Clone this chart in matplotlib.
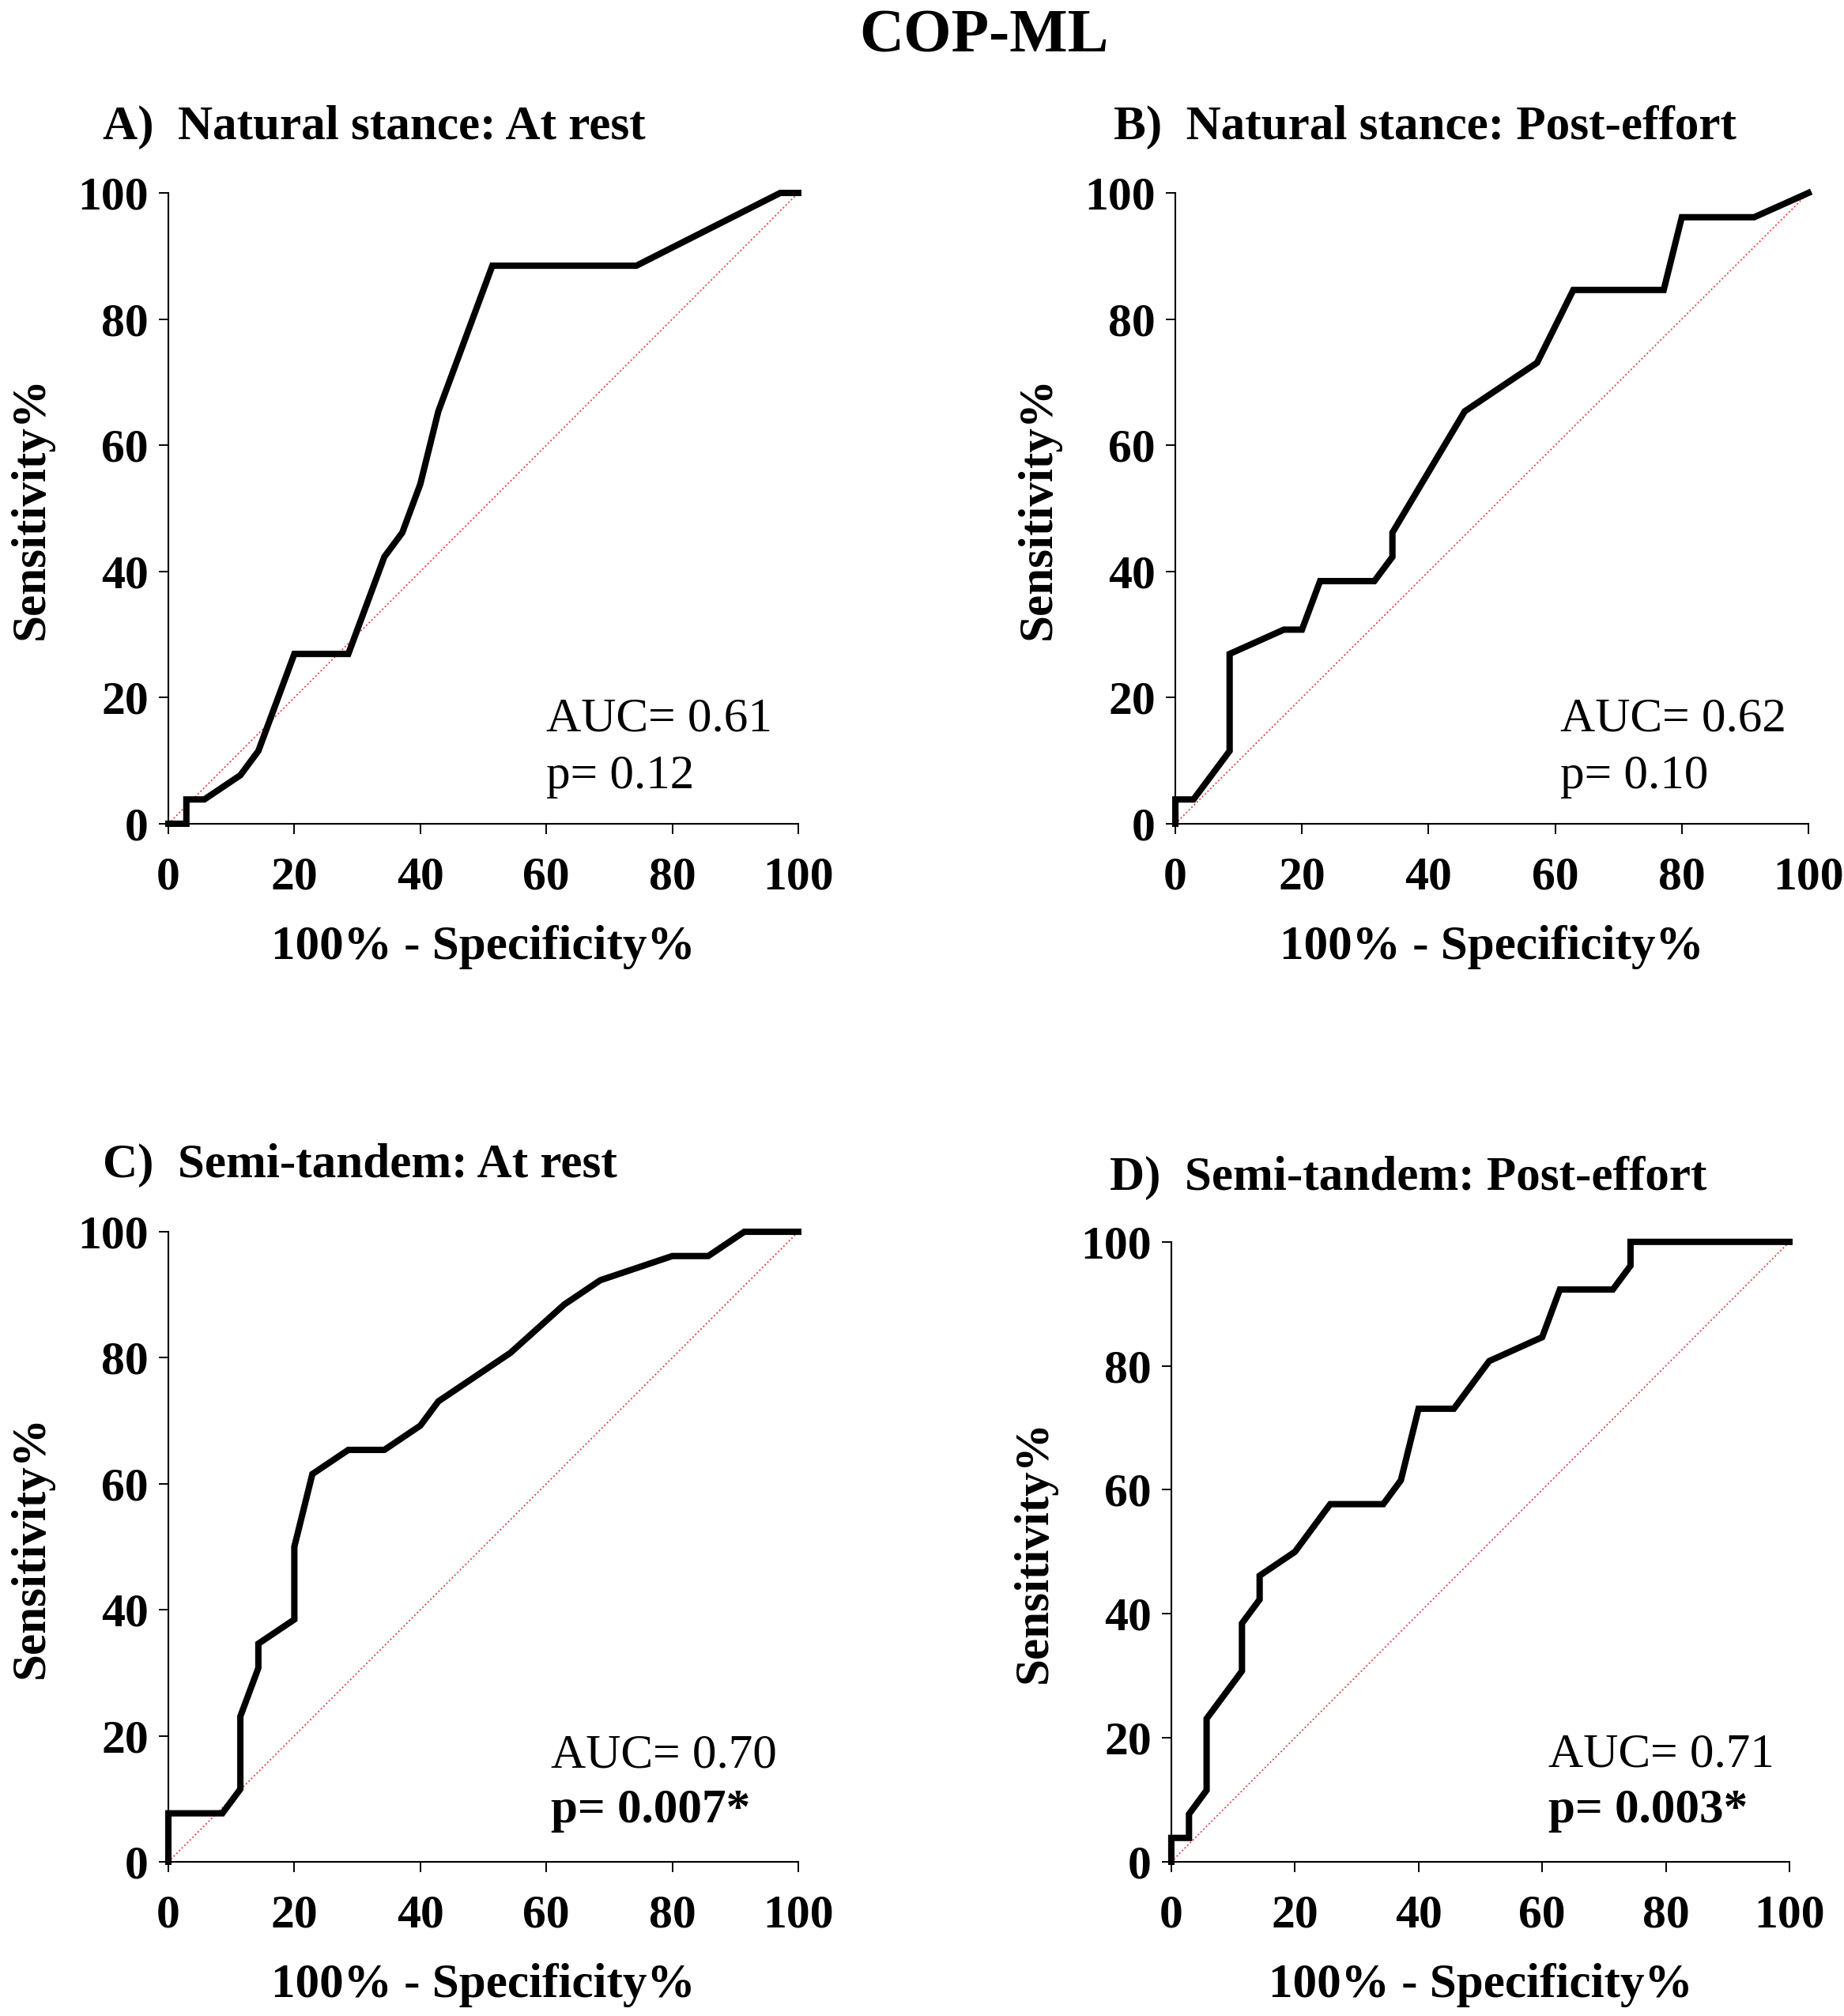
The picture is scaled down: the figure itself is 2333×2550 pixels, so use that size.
import matplotlib
matplotlib.use("Agg")
import matplotlib.pyplot as plt

plt.rcParams["font.family"] = ["Liberation Serif", "DejaVu Serif"]

# ROC curve points: x = 100% - specificity%, y = sensitivity%
a_fpr = [0, 2.86, 2.86, 5.71, 11.43, 14.29, 20.0, 28.57, 34.29, 37.14, 40.0, 42.86, 51.43, 74.29, 97.14, 100]
a_tpr = [0, 0, 3.85, 3.85, 7.69, 11.54, 26.92, 26.92, 42.31, 46.15, 53.85, 65.38, 88.46, 88.46, 100, 100]

b_fpr = [0, 0, 2.86, 8.57, 8.57, 17.14, 20.0, 22.86, 31.43, 34.29, 34.29, 45.71, 57.14, 62.86, 77.14, 80.0, 91.43, 100]
b_tpr = [0, 3.85, 3.85, 11.54, 26.92, 30.77, 30.77, 38.46, 38.46, 42.31, 46.15, 65.38, 73.08, 84.62, 84.62, 96.15, 96.15, 100]

c_fpr = [0, 0, 8.57, 11.43, 11.43, 14.29, 14.29, 20.0, 20.0, 22.86, 28.57, 34.29, 40.0, 42.86, 54.29, 62.86, 68.57, 80.0, 85.71, 91.43, 100]
c_tpr = [0, 7.69, 7.69, 11.54, 23.08, 30.77, 34.62, 38.46, 50.0, 61.54, 65.38, 65.38, 69.23, 73.08, 80.77, 88.46, 92.31, 96.15, 96.15, 100, 100]

d_fpr = [0, 0, 2.86, 2.86, 5.71, 5.71, 11.43, 11.43, 14.29, 14.29, 20.0, 25.71, 34.29, 37.14, 40.0, 45.71, 51.43, 60.0, 62.86, 71.43, 74.29, 74.29, 100]
d_tpr = [0, 3.85, 3.85, 7.69, 11.54, 23.08, 30.77, 38.46, 42.31, 46.15, 50.0, 57.69, 57.69, 61.54, 73.08, 73.08, 80.77, 84.62, 92.31, 92.31, 96.15, 100, 100]

panel_titles = ["A)  Natural stance: At rest", "B)  Natural stance: Post-effort",
                "C)  Semi-tandem: At rest", "D)  Semi-tandem: Post-effort"]
auc_labels = ["AUC= 0.61", "AUC= 0.62", "AUC= 0.70", "AUC= 0.71"]
p_labels = ["p= 0.12", "p= 0.10", "p= 0.007*", "p= 0.003*"]
p_bold = [False, False, True, True]
ticks = [0, 20, 40, 60, 80, 100]

curves = [(a_fpr, a_tpr), (b_fpr, b_tpr), (c_fpr, c_tpr), (d_fpr, d_tpr)]
axes_rects = [
    [0.0913, 0.5914, 0.3416, 0.3129],
    [0.6374, 0.5914, 0.3433, 0.3129],
    [0.0913, 0.0765, 0.3416, 0.3125],
    [0.6352, 0.0765, 0.3352, 0.3075],
]
title_pos = [(0.0557, 0.931), (0.604, 0.931), (0.0557, 0.416), (0.602, 0.410)]
text_pos = [(0.60, 0.147, 0.056), (0.608, 0.147, 0.056), (0.607, 0.150, 0.063), (0.61, 0.153, 0.064)]

fig = plt.figure(figsize=(23.33, 25.5), dpi=100)
fig.text(0.5336, 0.9745, "COP-ML", ha="center", va="baseline", fontsize=56, fontweight="bold")

for i, (fpr, tpr) in enumerate(curves):
    ax = fig.add_axes(axes_rects[i])
    ax.plot([0, 100], [0, 100], color="#e03838", linestyle=":", linewidth=1.3)
    ax.plot(fpr, tpr, color="black", linewidth=5.8, solid_joinstyle="miter", clip_on=False, zorder=3)
    ax.set_xlim(0, 100)
    ax.set_ylim(0, 100)
    ax.set_xticks(ticks)
    ax.set_yticks(ticks)
    for side in ("top", "right"):
        ax.spines[side].set_visible(False)
    for side in ("left", "bottom"):
        ax.spines[side].set_linewidth(1.5)
    ax.tick_params(direction="out", length=9, width=1.4, labelsize=43)
    ax.tick_params(axis="y", pad=9)
    ax.tick_params(axis="x", pad=21)
    for lab in ax.get_xticklabels() + ax.get_yticklabels():
        lab.set_fontweight("bold")
    ax.set_xlabel("100% - Specificity%", fontsize=44, fontweight="bold", labelpad=23)
    ax.set_ylabel("Sensitivity%", fontsize=44, fontweight="bold", labelpad=22)

    tx, ty1, ty2 = text_pos[i]
    ax.text(tx, ty1, auc_labels[i], transform=ax.transAxes, fontsize=44, va="baseline")
    ax.text(tx, ty2, p_labels[i], transform=ax.transAxes, fontsize=44, va="baseline",
            fontweight="bold" if p_bold[i] else "normal")

    fig.text(title_pos[i][0], title_pos[i][1], panel_titles[i], fontsize=44,
             fontweight="bold", va="baseline", ha="left")

fig.savefig("out.png", dpi=100)
